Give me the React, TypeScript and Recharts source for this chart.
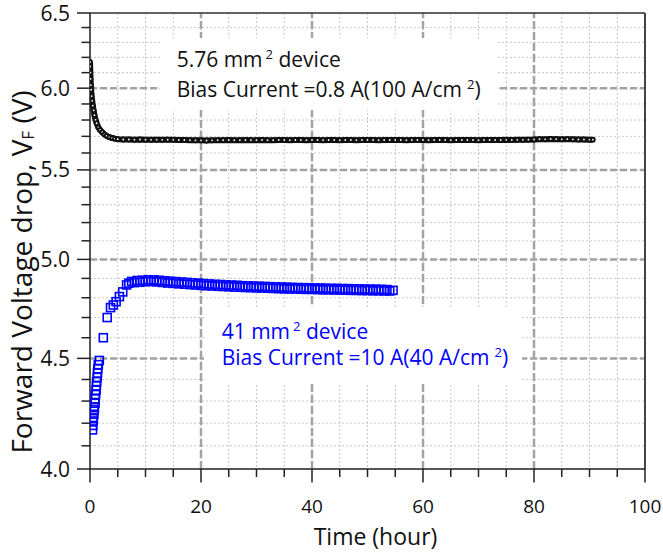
import React from 'react';
import { ComposedChart, Scatter, Line, XAxis, YAxis, CartesianGrid, ReferenceLine } from 'recharts';

// ---- data ----
const blackHours = [
  0, 0.03, 0.06, 0.1, 0.15, 0.2, 0.3, 0.4, 0.5, 0.65, 0.8, 1.0, 1.2, 1.5, 1.8, 2.2, 2.6, 3.0, 3.5, 4.0, 4.5, 5, 6,
  7, 8, 9, 10, 11, 12, 13, 14, 15, 16, 17, 18, 19, 20, 21, 22, 23, 24, 25, 26, 27, 28, 29, 30,
  31, 32, 33, 34, 35, 36, 37, 38, 39, 40, 41, 42, 43, 44, 45, 46, 47, 48, 49, 50, 51, 52, 53, 54, 55,
  56, 57, 58, 59, 60, 61, 62, 63, 64, 65, 66, 67, 68, 69, 70, 71, 72, 73, 74, 75, 76, 77, 78, 79,
  80, 81, 82, 83, 84, 85, 86, 87, 88, 89, 90, 90.6,
];
const blackVolts = [
  6.17, 6.14, 6.1, 6.06, 6.02, 5.99, 5.95, 5.92, 5.89, 5.86, 5.83, 5.8, 5.78, 5.755, 5.74, 5.725, 5.712, 5.703, 5.695, 5.69, 5.686, 5.683, 5.681,
  5.681, 5.68, 5.681, 5.68, 5.679, 5.68, 5.679, 5.68, 5.679, 5.678, 5.678, 5.677, 5.676, 5.676, 5.675, 5.676, 5.677, 5.677, 5.678, 5.677, 5.677, 5.678, 5.677, 5.677,
  5.678, 5.677, 5.677, 5.678, 5.678, 5.677, 5.678, 5.678, 5.677, 5.678, 5.678, 5.677, 5.678, 5.678, 5.677, 5.678, 5.678, 5.677, 5.678, 5.678, 5.678, 5.677, 5.678, 5.678, 5.678,
  5.678, 5.677, 5.678, 5.678, 5.678, 5.677, 5.678, 5.678, 5.678, 5.677, 5.678, 5.678, 5.678, 5.678, 5.677, 5.678, 5.678, 5.678, 5.678, 5.679, 5.678, 5.679, 5.679, 5.68,
  5.681, 5.683, 5.682, 5.684, 5.683, 5.682, 5.683, 5.682, 5.681, 5.681, 5.68, 5.68,
];

const blueHours = [
  0.45, 0.5, 0.55, 0.6, 0.7, 0.75, 0.8, 0.9, 0.95, 1.0, 1.1, 1.15, 1.2, 1.3, 1.35, 1.4, 1.5, 1.68,
  2.4, 3.1, 3.7, 4.2, 4.7, 5.3, 5.9, 6.6,
  7, 7.5, 8, 8.5, 9, 9.5, 10, 10.5, 11, 11.5, 12, 12.5, 13, 13.5, 14, 14.5, 15, 15.5, 16, 16.5,
  17, 17.5, 18, 18.5, 19, 19.5, 20, 20.5, 21, 21.5, 22, 22.5, 23, 23.5, 24, 24.5, 25, 25.5, 26, 26.5,
  27, 27.5, 28, 28.5, 29, 29.5, 30, 30.5, 31, 31.5, 32, 32.5, 33, 33.5, 34, 34.5, 35, 35.5, 36, 36.5,
  37, 37.5, 38, 38.5, 39, 39.5, 40, 40.5, 41, 41.5, 42, 42.5, 43, 43.5, 44, 44.5, 45, 45.5, 46, 46.5,
  47, 47.5, 48, 48.5, 49, 49.5, 50, 50.5, 51, 51.5, 52, 52.5, 53, 53.5, 54, 54.6,
];
const blueVolts = [
  4.17, 4.19, 4.21, 4.22, 4.24, 4.26, 4.27, 4.29, 4.31, 4.33, 4.35, 4.37, 4.39, 4.41, 4.43, 4.45, 4.47, 4.49,
  4.6, 4.7, 4.75, 4.763, 4.78, 4.806, 4.83, 4.866,
  4.875, 4.884, 4.878, 4.889, 4.88, 4.89, 4.883, 4.893, 4.884, 4.892, 4.882, 4.89, 4.879, 4.887, 4.876, 4.885, 4.874, 4.883, 4.872, 4.881,
  4.87, 4.879, 4.868, 4.877, 4.866, 4.875, 4.864, 4.873, 4.862, 4.871, 4.861, 4.869, 4.859, 4.868, 4.858, 4.866, 4.857, 4.865, 4.855, 4.864,
  4.854, 4.862, 4.853, 4.861, 4.852, 4.86, 4.851, 4.859, 4.85, 4.858, 4.849, 4.857, 4.848, 4.856, 4.847, 4.855, 4.846, 4.854, 4.845, 4.853,
  4.845, 4.852, 4.844, 4.852, 4.843, 4.851, 4.843, 4.85, 4.842, 4.85, 4.841, 4.849, 4.841, 4.848, 4.84, 4.848, 4.84, 4.847, 4.839, 4.847,
  4.838, 4.846, 4.838, 4.845, 4.837, 4.845, 4.837, 4.844, 4.836, 4.844, 4.836, 4.843, 4.835, 4.842, 4.835, 4.838,
];

const xMajorTicks = [0, 20, 40, 60, 80, 100];
const xAllTicks = [0, 5, 10, 15, 20, 25, 30, 35, 40, 45, 50, 55, 60, 65, 70, 75, 80, 85, 90, 95, 100];
const yMajorTicks = [4.0, 4.5, 5.0, 5.5, 6.0, 6.5];
const yAllTicks = [
  4.0, 4.1, 4.2, 4.3, 4.4, 4.5, 4.6, 4.7, 4.8, 4.9, 5.0, 5.1, 5.2, 5.3, 5.4, 5.5, 5.6, 5.7, 5.8, 5.9, 6.0,
  6.1, 6.2, 6.3, 6.4, 6.5,
];

const blackData = blackHours.map((t, i) => ({ t, v: blackVolts[i] }));
const blueData = blueHours.map((t, i) => ({ t, v: blueVolts[i] }));

const FONT = "'Open Sans', sans-serif";
const BLUE = '#0000ff';

const YTick = (props: any) => {
  const { x, y, payload } = props;
  const major = yMajorTicks.includes(payload.value);
  return (
    <g>
      <line x1={x - (major ? 13 : 8.5)} x2={x} y1={y} y2={y} stroke="#222" strokeWidth={1.5} />
      {major && (
        <text x={x - 20} y={y + 7.5} textAnchor="end" fontSize={21} fill="#111" fontFamily={FONT}>
          {payload.value.toFixed(1)}
        </text>
      )}
    </g>
  );
};

const XTick = (props: any) => {
  const { x, y, payload } = props;
  const major = xMajorTicks.includes(payload.value);
  return (
    <g>
      <line x1={x} x2={x} y1={y} y2={y + (major ? 13.5 : 8)} stroke="#222" strokeWidth={1.5} />
      {major && (
        <text x={x} y={y + 43.7} textAnchor="middle" fontSize={19} fill="#111" fontFamily={FONT}>
          {payload.value}
        </text>
      )}
    </g>
  );
};

const BlackDot = (props: any) => {
  const { cx, cy } = props;
  if (cx == null || cy == null) return null;
  return <circle cx={cx} cy={cy} r={1.9} fill="#ffffff" stroke="#111" strokeWidth={2} />;
};

const BlueSquare = (props: any) => {
  const { cx, cy } = props;
  if (cx == null || cy == null) return null;
  return <rect x={cx - 4} y={cy - 4} width={8} height={8} fill="none" stroke={BLUE} strokeWidth={1.6} />;
};

export default function App() {
  const yMajorInner = yMajorTicks.filter((v) => v > 4.0 && v < 6.5);
  const xMajorInner = xMajorTicks.filter((v) => v > 0 && v < 100);
  return (
    <div style={{ position: 'absolute', left: 0, top: 0, width: 663, height: 554, background: '#fff' }}>
      <ComposedChart width={663} height={554} margin={{ top: 13, right: 18, left: 0, bottom: 0 }}>
        <CartesianGrid stroke="#c8c8c8" strokeDasharray="2 2" strokeWidth={1} />
        {yMajorInner.map((v) => (
          <ReferenceLine key={'y' + v} y={v} stroke="#a3a3a3" strokeWidth={2.5} strokeDasharray="7 3" />
        ))}
        {xMajorInner.map((v) => (
          <ReferenceLine key={'x' + v} x={v} stroke="#a3a3a3" strokeWidth={2.5} strokeDasharray="8 3" />
        ))}
        <ReferenceLine y={6.5} stroke="#333" strokeWidth={1.5} />
        <ReferenceLine x={100} stroke="#444" strokeWidth={2} />
        <XAxis
          dataKey="t"
          type="number"
          domain={[0, 100]}
          ticks={xAllTicks}
          interval={0}
          height={85}
          tickSize={0}
          tickMargin={0}
          tickLine={false}
          axisLine={{ stroke: '#222', strokeWidth: 1.5 }}
          tick={<XTick />}
          allowDataOverflow
        />
        <YAxis
          dataKey="v"
          type="number"
          scale="log"
          domain={[4, 6.5]}
          ticks={yAllTicks}
          interval={0}
          width={90}
          tickSize={0}
          tickMargin={0}
          tickLine={false}
          axisLine={{ stroke: '#222', strokeWidth: 1.5 }}
          tick={<YTick />}
          allowDataOverflow
        />
        <Line
          data={blackData}
          dataKey="v"
          type="linear"
          stroke="#111"
          strokeWidth={6}
          dot={false}
          activeDot={false}
          isAnimationActive={false}
        />
        <Scatter data={blackData} shape={<BlackDot />} isAnimationActive={false} />
        <Scatter data={blueData} shape={<BlueSquare />} isAnimationActive={false} />
      </ComposedChart>
      <svg
        width={663}
        height={554}
        style={{ position: 'absolute', left: 0, top: 0, pointerEvents: 'none' }}
        fontFamily={FONT}
      >
        <rect x={160} y={38} width={337} height={72} fill="#fff" />
        <text x={176.7} y={66.7} fontSize={21} fill="#111">
          5.76 mm
          <tspan dx={3} dy={-8} fontSize={13}>2</tspan>
          <tspan dy={8}> device</tspan>
        </text>
        <text x={176.7} y={96.7} fontSize={21} fill="#111">
          Bias Current =0.8 A(100 A/cm
          <tspan dx={5} dy={-8} fontSize={13}>2</tspan>
          <tspan dy={8}>)</tspan>
        </text>
        <rect x={204} y={307} width={318} height={76} fill="#fff" />
        <text x={221.7} y={339.3} fontSize={21} fill={BLUE}>
          41 mm
          <tspan dx={3} dy={-8} fontSize={13}>2</tspan>
          <tspan dy={8}> device</tspan>
        </text>
        <text x={221.7} y={365} fontSize={21} fill={BLUE}>
          Bias Current =10 A(40 A/cm
          <tspan dx={5} dy={-8} fontSize={13}>2</tspan>
          <tspan dy={8}>)</tspan>
        </text>
        <text x={375.5} y={545} fontSize={23} textAnchor="middle" fill="#111">
          Time (hour)
        </text>
        <text transform="translate(31.7, 272) rotate(-90)" fontSize={28} textAnchor="middle" fill="#111">
          Forward Voltage drop, V
          <tspan fontSize={17} dy={2}>F</tspan>
          <tspan dy={-2}> (V)</tspan>
        </text>
      </svg>
    </div>
  );
}
